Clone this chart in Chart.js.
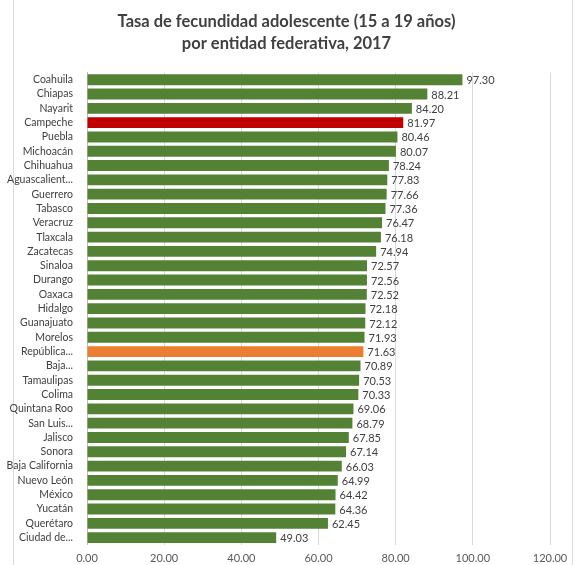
<!DOCTYPE html>
<html>
<head>
<meta charset="utf-8">
<script src="https://cdn.jsdelivr.net/npm/chart.js@4"></script>
<style>
  body { margin: 0; background: #fff; overflow: hidden; }
  #wrap { position: absolute; left: 0; top: 0; width: 573px; height: 572px; }
  #marco {
    position: absolute; left: 13px; top: 0; width: 558px; height: 572px;
    border-left: 1px solid #d9d9d9; border-right: 1px solid #d9d9d9;
    pointer-events: none;
  }
</style>
</head>
<body>
<div id="marco"></div>
<div id="wrap"><canvas id="fecundidadChart"></canvas></div>
<script>
const estados = [
  "Coahuila", "Chiapas", "Nayarit", "Campeche", "Puebla", "Michoacán",
  "Chihuahua", "Aguascalient...", "Guerrero", "Tabasco", "Veracruz",
  "Tlaxcala", "Zacatecas", "Sinaloa", "Durango", "Oaxaca", "Hidalgo",
  "Guanajuato", "Morelos", "República...", "Baja...", "Tamaulipas",
  "Colima", "Quintana Roo", "San Luis...", "Jalisco", "Sonora",
  "Baja California", "Nuevo León", "México", "Yucatán", "Querétaro",
  "Ciudad de..."
];
const tasas = [
  97.30, 88.21, 84.20, 81.97, 80.46, 80.07, 78.24, 77.83, 77.66, 77.36,
  76.47, 76.18, 74.94, 72.57, 72.56, 72.52, 72.18, 72.12, 71.93, 71.63,
  70.89, 70.53, 70.33, 69.06, 68.79, 67.85, 67.14, 66.03, 64.99, 64.42,
  64.36, 62.45, 49.03
];
const tituloLineas = ["Tasa de fecundidad adolescente (15 a 19 años)", "por entidad federativa, 2017"];

// Campeche in red, national average in orange
const colores = estados.map((e) => {
  if (e === "Campeche") return "#C00000";
  if (e === "República...") return "#ED7D31";
  return "#548235";
});

// Draw value labels at the end of each bar
const etiquetasValor = {
  id: "etiquetasValor",
  afterDatasetsDraw(chart) {
    const ctx = chart.ctx;
    const meta = chart.getDatasetMeta(0);
    ctx.save();
    ctx.font = "11px Lato";
    ctx.fillStyle = "#404040";
    ctx.textBaseline = "middle";
    meta.data.forEach((bar, i) => {
      ctx.fillText(tasas[i].toFixed(2), bar.x + 4, bar.y + 1);
    });
    ctx.restore();
  },
};

const ctx = document.getElementById("fecundidadChart").getContext("2d");
new Chart(ctx, {
  type: "bar",
  data: {
    labels: estados,
    datasets: [
      {
        data: tasas,
        backgroundColor: colores,
        borderWidth: 0,
        barPercentage: 0.76,
        categoryPercentage: 1,
      },
    ],
  },
  options: {
    indexAxis: "y",
    responsive: true,
    maintainAspectRatio: false,
    animation: false,
    layout: { padding: { left: 0, right: 0, top: 6, bottom: 0 } },
    plugins: {
      legend: { display: false },
      tooltip: { enabled: false },
      title: {
        display: true,
        text: tituloLineas,
        color: "#404040",
        font: { family: "Lato", size: 16.5, weight: "bold", lineHeight: 1.38 },
        padding: { top: 4, bottom: 17 },
      },
    },
    scales: {
      x: {
        min: 0,
        max: 120,
        // keep room on the right of the plot without shifting the title
        afterFit: (scale) => { scale.paddingRight = 23; },
        ticks: {
          stepSize: 20,
          color: "#595959",
          font: { family: "Lato", size: 11 },
          callback: (v) => v.toFixed(2),
          padding: 7,
        },
        grid: { color: "#d9d9d9", drawTicks: false },
        border: { display: false },
      },
      y: {
        afterFit: (scale) => { scale.width = 87; },
        ticks: {
          color: "#404040",
          font: { family: "Lato", size: 10.5 },
          autoSkip: false,
          padding: 6,
        },
        grid: { display: false },
        border: { color: "#bfbfbf" },
      },
    },
  },
  plugins: [etiquetasValor],
});
</script>
</body>
</html>
